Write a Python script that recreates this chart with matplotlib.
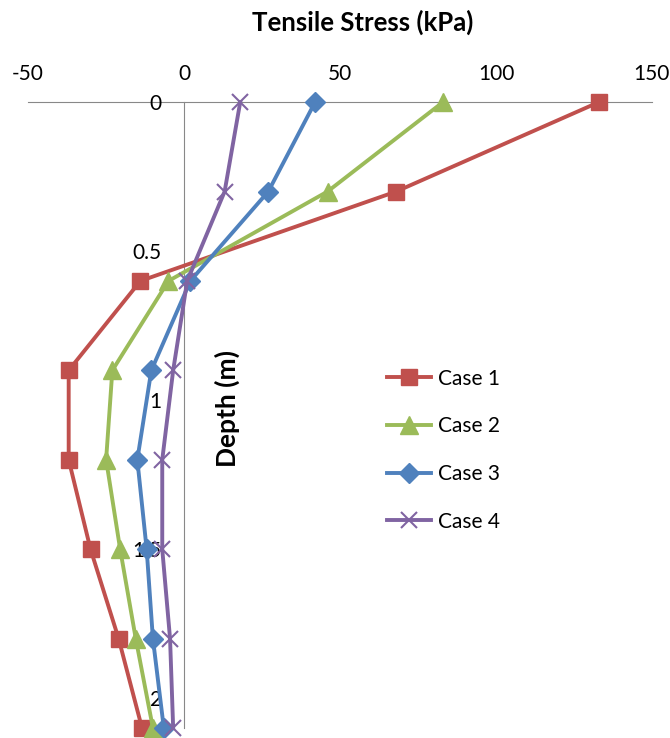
import matplotlib
matplotlib.use('Agg')
import matplotlib.pyplot as plt

plt.rcParams['font.family'] = ['Lato', 'DejaVu Sans']

# depth (m) and tensile stress (kPa) for each case
depth = [0, 0.3, 0.6, 0.9, 1.2, 1.5, 1.8, 2.1]
case1 = [133, 68, -14, -37, -37, -30, -21, -13.5]
case2 = [83, 46, -5, -23, -25, -20.5, -15.5, -10]
case3 = [42, 27, 2, -10.5, -15, -12, -10, -6.5]
case4 = [18, 13, 1, -3.5, -7, -7, -4.5, -3.5]
labels = ['Case 1', 'Case 2', 'Case 3', 'Case 4']

x_ticks = [-50, 0, 50, 100, 150]
y_ticks = [0, 0.5, 1, 1.5, 2]

fig = plt.figure(figsize=(6.7, 7.38), dpi=100)
ax = fig.add_axes([0.042, 0.0136, 0.931, 0.848])

styles = [
    dict(color='#C0504D', marker='s', markersize=12),
    dict(color='#9BBB59', marker='^', markersize=13),
    dict(color='#4F81BD', marker='D', markersize=10),
    dict(color='#8064A2', marker='x', markersize=12, markeredgewidth=1.5),
]
for vals, lab, st in zip([case1, case2, case3, case4], labels, styles):
    ax.plot(vals, depth, label=lab, linewidth=2.8, clip_on=False, zorder=2, **st)

ax.set_xlim(-50, 150)
ax.set_ylim(2.1, 0)

# axes crossing at (0, 0) like the Excel chart
for s in ['right', 'bottom']:
    ax.spines[s].set_visible(False)
ax.spines['left'].set_position(('data', 0))
ax.spines['left'].set_color('#888888')
ax.spines['top'].set_color('#888888')
ax.spines['left'].set_zorder(1)
ax.spines['top'].set_zorder(1)

ax.xaxis.tick_top()
ax.set_xticks(x_ticks)
ax.set_xticklabels([str(v) for v in x_ticks])
ax.set_yticks(y_ticks)
ax.set_yticklabels(['0', '0.5', '1', '1.5', '2'])
ax.tick_params(axis='x', length=0, pad=13, labelsize=15)
ax.tick_params(axis='y', length=0, pad=16, labelsize=15)

fig.text(0.541, 0.970, 'Tensile Stress (kPa)', ha='center', va='center',
         fontsize=18.5, fontweight='bold')
fig.text(0.34, 0.447, 'Depth (m)', rotation=90, ha='center', va='center',
         fontsize=19, fontweight='bold')

ax.legend(loc='upper left', bbox_to_anchor=(0.549, 0.526), bbox_transform=fig.transFigure,
          frameon=False, fontsize=15, handlelength=2.15, labelspacing=1.33,
          handletextpad=0.3)

plt.savefig('out.png', dpi=100)
